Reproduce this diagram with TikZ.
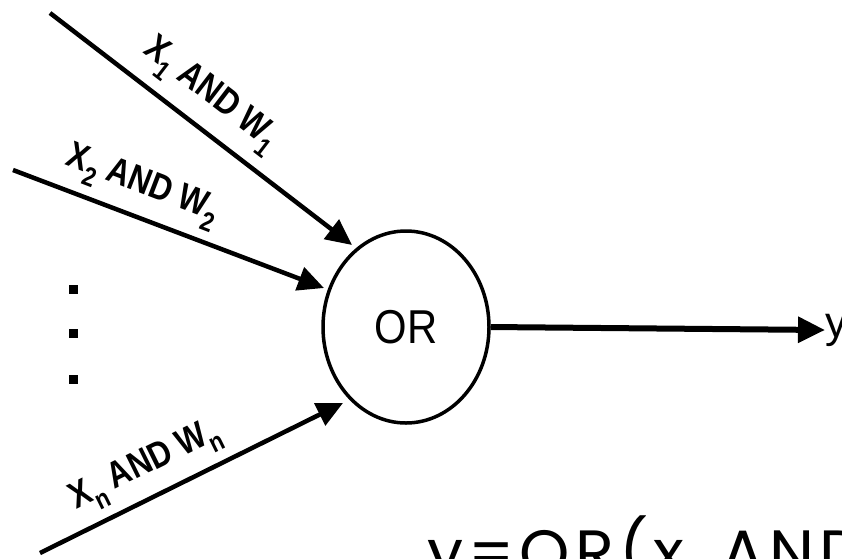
\documentclass[tikz,border=0pt]{standalone}
\usepackage{fontspec}
\setmainfont{Liberation Sans}
\newfontfamily\popfont[LetterSpace=8]{Poppins}
\usetikzlibrary{arrows.meta,shapes.geometric}
\newcommand{\lsub}[1]{\raisebox{-0.32em}{\fontsize{27}{27}\selectfont #1}}
\newcommand{\lbltext}[2]{\scalebox{0.84}[1]{X\lsub{#1} AND W\lsub{#2}}}
\tikzset{
  conn/.style={line width=4.5pt,-{Triangle[length=26pt,width=24pt]}},
  lbl/.style={font=\bfseries\fontsize{37}{37}\selectfont,inner sep=0pt},
  dotmark/.style={fill=black,minimum size=9pt,inner sep=0pt,rectangle}
}
\begin{document}
\begin{tikzpicture}[x=1pt,y=-1pt]
\path[use as bounding box] (0,0) rectangle (842,558);
\clip (0,0) rectangle (842,558);
\node[draw,ellipse,line width=3.5pt,minimum width=166pt,minimum height=192pt,inner sep=0pt,font=\fontsize{44}{44}\selectfont] (or) at (406,327) {\scalebox{0.95}[1.08]{OR}};
\coordinate (s1) at (50,13);
\coordinate (e1) at (352,245);
\coordinate (s2) at (13,170);
\coordinate (e2) at (324,288);
\coordinate (sn) at (40,553);
\coordinate (en) at (343,403);
\node[anchor=west,inner sep=0pt,font=\fontsize{44}{44}\selectfont] (y) at (825,330) {y};
\draw[conn] (s1) -- (e1);
\draw[conn] (s2) -- (e2);
\draw[conn] (sn) -- (en);
\draw[conn,line width=6pt,-{Triangle[length=27pt,width=25pt]}] (or.east) -- (y.west);
\node[lbl,rotate=-37.5] (l1) at (210,96) {\lbltext{1}{1}};
\node[lbl,rotate=-21] (l2) at (142,187) {\lbltext{2}{2}};
\node[lbl,rotate=26.3] (ln) at (146,467) {\lbltext{n}{n}};
\node[dotmark] (d1) at (73,289) {};
\node[dotmark] (d2) at (73,333) {};
\node[dotmark] (d3) at (73,379) {};
\node[anchor=base west,inner sep=0pt,font=\popfont\fontsize{64}{64}\selectfont] (eq) at (427,575) {y=OR(x\textsubscript{1} AND w\textsubscript{1}};
\end{tikzpicture}
\end{document}
